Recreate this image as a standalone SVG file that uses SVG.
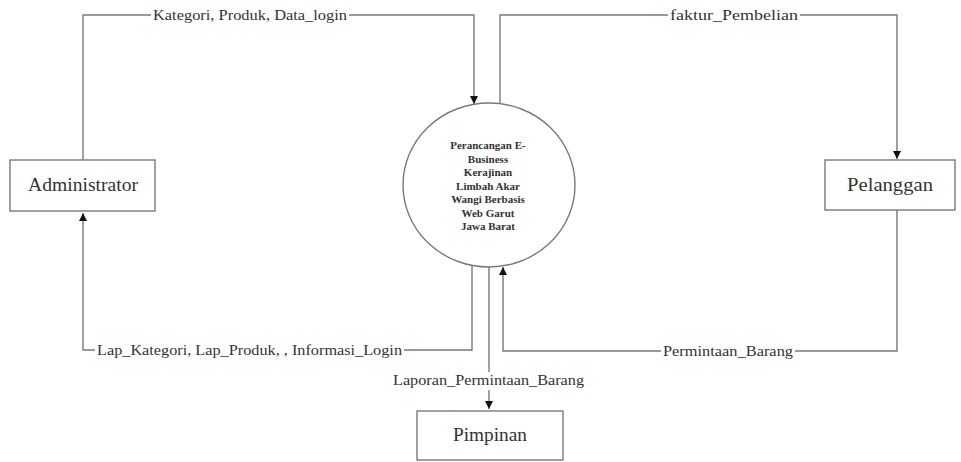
<svg xmlns="http://www.w3.org/2000/svg" width="961" height="462" viewBox="0 0 961 462">
  <style>
    .box { fill: #ffffff; stroke: #7a7a7a; stroke-width: 1.4; }
    .flow { fill: none; stroke: #7a7a7a; stroke-width: 1.4; }
    text { font-family: "Liberation Serif", "DejaVu Serif", serif; fill: #333; }
    .node-label { font-size: 18px; text-anchor: middle; }
    .flow-label { font-size: 14px; }
    .proc-label { font-size: 11px; font-weight: bold; text-anchor: middle; }
    .mask { fill: #ffffff; }
  </style>
  <defs>
    <marker id="arrow" viewBox="0 0 10 10" refX="10" refY="5" markerWidth="8" markerHeight="8" markerUnits="userSpaceOnUse" orient="auto">
      <path d="M0,0 L10,5 L0,10 Z" fill="#111"/>
    </marker>
  </defs>
  <rect width="961" height="462" fill="#ffffff"/>

  <g id="connectors">
    <!-- Administrator to process -->
    <path class="flow" d="M83,160 V15 H474 V104" marker-end="url(#arrow)"/>
    <!-- process to Pelanggan -->
    <path class="flow" d="M500,104 V15 H897 V159" marker-end="url(#arrow)"/>
    <!-- Pelanggan to process -->
    <path class="flow" d="M897,210 V351 H503 V267" marker-end="url(#arrow)"/>
    <!-- process to Administrator -->
    <path class="flow" d="M472,265 V350 H83 V213" marker-end="url(#arrow)"/>
    <!-- process to Pimpinan -->
    <path class="flow" d="M489,267 V409" marker-end="url(#arrow)"/>

    <rect class="mask" x="151" y="6" width="198" height="18"/>
    <text class="flow-label" x="153" y="20" textLength="194" lengthAdjust="spacingAndGlyphs">Kategori, Produk, Data_login</text>

    <rect class="mask" x="668" y="6" width="132" height="18"/>
    <text class="flow-label" x="670" y="20" textLength="128" lengthAdjust="spacingAndGlyphs">faktur_Pembelian</text>

    <rect class="mask" x="95" y="341" width="309" height="18"/>
    <text class="flow-label" x="97" y="355" textLength="305" lengthAdjust="spacingAndGlyphs">Lap_Kategori, Lap_Produk, , Informasi_Login</text>

    <rect class="mask" x="661" y="342" width="134" height="18"/>
    <text class="flow-label" x="663" y="356" textLength="130" lengthAdjust="spacingAndGlyphs">Permintaan_Barang</text>

    <rect class="mask" x="391" y="372" width="195" height="18"/>
    <text class="flow-label" x="393" y="385" textLength="191" lengthAdjust="spacingAndGlyphs">Laporan_Permintaan_Barang</text>
  </g>

  <g id="process">
    <ellipse class="box" cx="489" cy="185" rx="86" ry="82"/>
    <text class="proc-label" x="488" y="149">Perancangan E-</text>
    <text class="proc-label" x="488" y="163">Business</text>
    <text class="proc-label" x="488" y="176">Kerajinan</text>
    <text class="proc-label" x="488" y="190">Limbah Akar</text>
    <text class="proc-label" x="488" y="203">Wangi Berbasis</text>
    <text class="proc-label" x="488" y="217">Web Garut</text>
    <text class="proc-label" x="488" y="230">Jawa Barat</text>
  </g>

  <g id="administrator">
    <rect class="box" x="10" y="160" width="145" height="51"/>
    <text class="node-label" x="83" y="191" textLength="110" lengthAdjust="spacingAndGlyphs">Administrator</text>
  </g>

  <g id="pelanggan">
    <rect class="box" x="825" y="160" width="130" height="50"/>
    <text class="node-label" x="890" y="191" textLength="86" lengthAdjust="spacingAndGlyphs">Pelanggan</text>
  </g>

  <g id="pimpinan">
    <rect class="box" x="417" y="411" width="146" height="49"/>
    <text class="node-label" x="490" y="441" textLength="74" lengthAdjust="spacingAndGlyphs">Pimpinan</text>
  </g>
</svg>
